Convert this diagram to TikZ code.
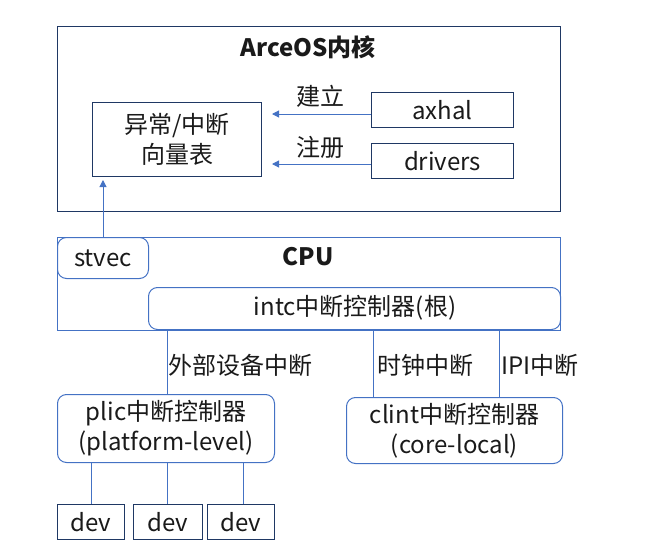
\documentclass[tikz,border=0pt]{standalone}
\usepackage{fontspec}
\setmainfont{Noto Sans CJK SC}
\usetikzlibrary{arrows.meta,calc}
\definecolor{navy}{HTML}{1F3864}
\definecolor{cblue}{HTML}{4472C4}
\definecolor{txt}{HTML}{1A1A1A}
\begin{document}
\begin{tikzpicture}[x=1pt,y=-1pt,
  font=\fontsize{24}{30}\selectfont, text=txt,
  sq/.style={draw=navy, line width=1pt, inner sep=0pt, anchor=north west, align=center},
  rd/.style={draw=cblue, line width=1pt, rounded corners=9pt, inner sep=0pt, anchor=north west, align=center},
  conn/.style={draw=cblue, line width=1pt},
  arr/.style={conn, -{Triangle[length=7pt,width=7pt]}},
  lbl/.style={inner sep=0pt}]
\useasboundingbox (0,0) rectangle (649,552);
% ArceOS kernel
\node[sq, minimum width=503pt, minimum height=185pt] (arceos) at (57,26) {};
\node[lbl, font=\fontsize{24}{30}\selectfont\bfseries] (ktitle) at (308,47) {ArceOS内核};
\node[sq, minimum width=169pt, minimum height=74pt] (vec) at (92,102) {异常/中断\\向量表};
\node[sq, minimum width=142pt, minimum height=35pt] (axhal) at (371,92) {axhal};
\node[sq, minimum width=142pt, minimum height=35pt] (drivers) at (371,143) {drivers};
\draw[arr, shorten >=10pt] ([yshift=-4pt]axhal.west) -- ([yshift=-4pt]axhal.west -| vec.east);
\draw[arr, shorten >=10pt] ([yshift=-3pt]drivers.west) -- ([yshift=-3pt]drivers.west -| vec.east);
\node[lbl] (ljl) at (320,96) {建立};
\node[lbl] (lzc) at (320,147) {注册};
% CPU
\node[draw=cblue, line width=1pt, inner sep=0pt, anchor=north west, minimum width=503pt, minimum height=93pt] (cpu) at (57,237) {};
\node[rd, minimum width=91pt, minimum height=41pt] (stvec) at (57,237) {stvec};
\node[lbl, font=\fontsize{24}{30}\selectfont\bfseries] (cputitle) at (308,257) {CPU};
\node[rd, minimum width=412pt, minimum height=42pt] (intc) at (148,287) {};
\node[lbl] (intctext) at (355,308) {intc中断控制器(根)};
\draw[arr, shorten >=3pt] (stvec.north) -- (stvec.north |- vec.south);
% controllers
\node[rd, minimum width=217pt, minimum height=68pt] (plic) at (57,394) {plic中断控制器\\(platform-level)};
\node[rd, minimum width=216pt, minimum height=66pt] (clint) at (346,397) {clint中断控制器\\(core-local)};
\coordinate (xe) at (167,0);
\coordinate (xt) at (373,0);
\coordinate (xi) at (499,0);
\draw[conn] (intc.south -| xe) -- (plic.north -| xe);
\draw[conn] (intc.south -| xt) -- (clint.north -| xt);
\draw[conn] (intc.south -| xi) -- (clint.north -| xi);
\node[lbl, anchor=west] (lext) at (168,365) {外部设备中断};
\node[lbl, anchor=west] (ltim) at (377,365) {时钟中断};
\node[lbl, anchor=west] (lipi) at (501,365) {IPI中断};
% devices
\node[sq, minimum width=67pt, minimum height=35pt] (dev1) at (57,504) {dev};
\node[sq, minimum width=69pt, minimum height=35pt] (dev2) at (133,504) {dev};
\node[sq, minimum width=67pt, minimum height=35pt] (dev3) at (207,504) {dev};
\coordinate (xd1) at (91,0);
\coordinate (xd2) at (167,0);
\coordinate (xd3) at (243,0);
\draw[conn] (plic.south -| xd1) -- (dev1.north -| xd1);
\draw[conn] (plic.south -| xd2) -- (dev2.north -| xd2);
\draw[conn] (plic.south -| xd3) -- (dev3.north -| xd3);
\end{tikzpicture}
\end{document}
